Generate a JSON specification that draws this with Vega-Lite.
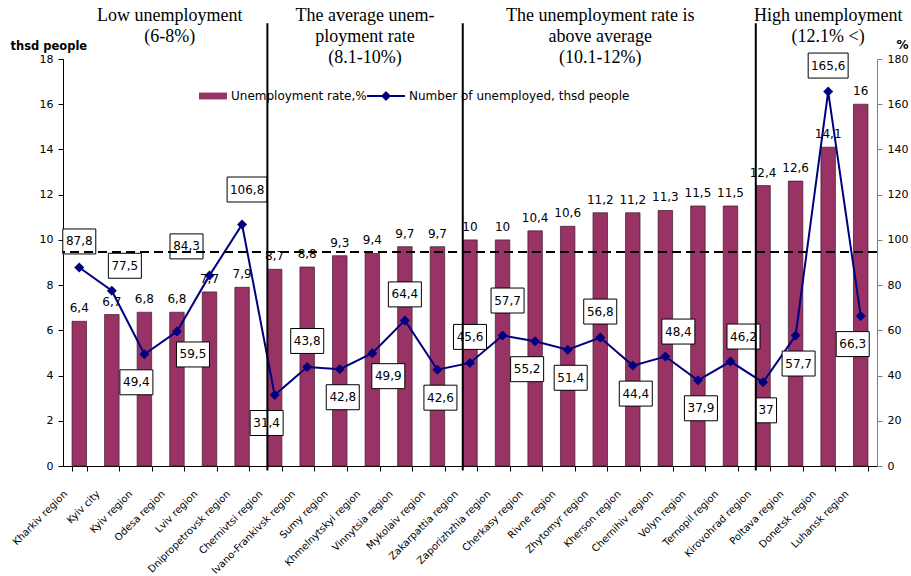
{
  "$schema": "https://vega.github.io/schema/vega-lite/v6.json",
  "width": 814,
  "height": 407,
  "autosize": {"type": "none"},
  "padding": {"left": 63, "top": 59, "right": 34, "bottom": 110},
  "background": "white",
  "config": {
    "locale": {"number": {"decimal": ",", "thousands": " ", "grouping": [3], "currency": ["", ""]}},
    "view": {"stroke": null},
    "axis": {
      "labelFont": "DejaVu Sans", "labelFontSize": 11, "labelColor": "black",
      "titleFont": "DejaVu Sans", "titleColor": "black", "grid": false,
      "domainColor": "black", "tickColor": "black"
    },
    "text": {"font": "DejaVu Sans", "fontSize": 12, "color": "black"}
  },
  "datasets": {
    "regions": [
      {"region": "Kharkiv region", "rate": 6.4, "num": 87.8},
      {"region": "Kyiv city", "rate": 6.7, "num": 77.5},
      {"region": "Kyiv region", "rate": 6.8, "num": 49.4},
      {"region": "Odesa region", "rate": 6.8, "num": 59.5},
      {"region": "Lviv region", "rate": 7.7, "num": 84.3},
      {"region": "Dnipropetrovsk region", "rate": 7.9, "num": 106.8},
      {"region": "Chernivtsi region", "rate": 8.7, "num": 31.4},
      {"region": "Ivano-Frankivsk region", "rate": 8.8, "num": 43.8},
      {"region": "Sumy region", "rate": 9.3, "num": 42.8},
      {"region": "Khmelnytskyi region", "rate": 9.4, "num": 49.9},
      {"region": "Vinnytsia region", "rate": 9.7, "num": 64.4},
      {"region": "Mykolaiv region", "rate": 9.7, "num": 42.6},
      {"region": "Zakarpattia region", "rate": 10, "num": 45.6},
      {"region": "Zaporizhzhia region", "rate": 10, "num": 57.7},
      {"region": "Cherkasy region", "rate": 10.4, "num": 55.2},
      {"region": "Rivne region", "rate": 10.6, "num": 51.4},
      {"region": "Zhytomyr region", "rate": 11.2, "num": 56.8},
      {"region": "Kherson region", "rate": 11.2, "num": 44.4},
      {"region": "Chernihiv region", "rate": 11.3, "num": 48.4},
      {"region": "Volyn region", "rate": 11.5, "num": 37.9},
      {"region": "Ternopil region", "rate": 11.5, "num": 46.2},
      {"region": "Kirovohrad region", "rate": 12.4, "num": 37},
      {"region": "Poltava region", "rate": 12.6, "num": 57.7},
      {"region": "Donetsk region", "rate": 14.1, "num": 165.6},
      {"region": "Luhansk region", "rate": 16, "num": 66.3}
    ],
    "headers": [
      {"lines": ["Low unemployment", "(6-8%)"], "region": "Odesa region"},
      {"lines": ["The average unem-", "ployment rate", "(8.1-10%)"], "region": "Khmelnytskyi region"},
      {"lines": ["The unemployment rate is", "above average", "(10.1-12%)"], "region": "Zhytomyr region"},
      {"lines": ["High unemployment", "(12.1% <)"], "region": "Donetsk region"}
    ],
    "bounds": [
      {"region": "Chernivtsi region"},
      {"region": "Zakarpattia region"},
      {"region": "Kirovohrad region"}
    ]
  },
  "data": {"name": "regions"},
  "layer": [
    {
      "layer": [
        {
          "mark": {"type": "bar", "color": "#993366", "stroke": "#3a1a2a", "strokeWidth": 0.7},
          "encoding": {
            "x": {
              "field": "region", "type": "nominal", "sort": null,
              "scale": {"paddingInner": 0.555, "paddingOuter": 0.2775},
              "axis": {
                "title": null, "labelAngle": -45, "labelAlign": "right", "labelBaseline": "middle",
                "labelFontSize": 10, "labelPadding": 21, "labelOffset": -14, "labelLimit": 200,
                "tickBand": "extent", "tickSize": 5
              }
            },
            "y": {
              "field": "rate", "type": "quantitative",
              "scale": {"domain": [0, 18], "nice": false},
              "axis": {
                "values": [0, 2, 4, 6, 8, 10, 12, 14, 16, 18],
                "title": "thsd people", "titleAngle": 0, "titleAlign": "left", "titleBaseline": "alphabetic",
                "titleX": -53, "titleY": -10, "titleFontWeight": "bold", "titleFontSize": 11.5,
                "tickSize": 5, "labelPadding": 5
              }
            }
          }
        },
        {
          "mark": {"type": "text", "baseline": "alphabetic", "dy": -9},
          "encoding": {
            "x": {"field": "region", "type": "nominal", "sort": null},
            "y": {"field": "rate", "type": "quantitative", "scale": {"domain": [0, 18], "nice": false}},
            "text": {"field": "rate", "type": "quantitative", "format": ".1~f"}
          }
        }
      ]
    },
    {
      "layer": [
        {
          "mark": {"type": "line", "color": "#000080", "strokeWidth": 2},
          "encoding": {
            "x": {"field": "region", "type": "nominal", "sort": null},
            "y": {
              "field": "num", "type": "quantitative",
              "scale": {"domain": [0, 180], "nice": false},
              "axis": {
                "orient": "right",
                "values": [0, 20, 40, 60, 80, 100, 120, 140, 160, 180],
                "title": "%", "titleAngle": 0, "titleAlign": "left", "titleBaseline": "alphabetic",
                "titleX": 19, "titleY": -11, "titleFontWeight": "bold", "titleFontSize": 12,
                "domainColor": "#808080", "tickColor": "#808080", "tickSize": 5, "labelPadding": 5
              }
            }
          }
        },
        {
          "mark": {"type": "point", "shape": "diamond", "filled": true, "color": "#000080", "size": 100, "opacity": 1},
          "encoding": {
            "x": {"field": "region", "type": "nominal", "sort": null},
            "y": {"field": "num", "type": "quantitative", "scale": {"domain": [0, 180], "nice": false}}
          }
        },
        {
          "transform": [{"filter": {"field": "region", "oneOf": ["Kharkiv region", "Ivano-Frankivsk region", "Vinnytsia region", "Zakarpattia region", "Zhytomyr region", "Donetsk region"]}}],
          "layer": [
            {
              "mark": {"type": "point", "filled": true, "fill": "white", "stroke": "black", "strokeWidth": 1, "opacity": 1, "size": 1296, "yOffset": -26},
              "encoding": {
                "x": {"field": "region", "type": "nominal", "sort": null},
                "y": {"field": "num", "type": "quantitative", "scale": {"domain": [0, 180], "nice": false}},
                "shape": {
                  "condition": [
                    {"test": "datum.num >= 100", "value": "M-1.11,-0.694H1.11V0.694H-1.11Z"},
                    {"test": "datum.num % 1 == 0", "value": "M-0.583,-0.694H0.583V0.694H-0.583Z"}
                  ],
                  "value": "M-0.917,-0.694H0.917V0.694H-0.917Z"
                }
              }
            },
            {
              "mark": {"type": "text", "baseline": "middle", "dy": -26},
              "encoding": {
                "x": {"field": "region", "type": "nominal", "sort": null},
                "y": {"field": "num", "type": "quantitative", "scale": {"domain": [0, 180], "nice": false}},
                "text": {"field": "num", "type": "quantitative", "format": ".1~f"}
              }
            }
          ]
        },
        {
          "transform": [{"filter": {"field": "region", "oneOf": ["Dnipropetrovsk region", "Zaporizhzhia region"]}}],
          "layer": [
            {
              "mark": {"type": "point", "filled": true, "fill": "white", "stroke": "black", "strokeWidth": 1, "opacity": 1, "size": 1296, "xOffset": 5, "yOffset": -35},
              "encoding": {
                "x": {"field": "region", "type": "nominal", "sort": null},
                "y": {"field": "num", "type": "quantitative", "scale": {"domain": [0, 180], "nice": false}},
                "shape": {
                  "condition": [
                    {"test": "datum.num >= 100", "value": "M-1.11,-0.694H1.11V0.694H-1.11Z"},
                    {"test": "datum.num % 1 == 0", "value": "M-0.583,-0.694H0.583V0.694H-0.583Z"}
                  ],
                  "value": "M-0.917,-0.694H0.917V0.694H-0.917Z"
                }
              }
            },
            {
              "mark": {"type": "text", "baseline": "middle", "dx": 5, "dy": -35},
              "encoding": {
                "x": {"field": "region", "type": "nominal", "sort": null},
                "y": {"field": "num", "type": "quantitative", "scale": {"domain": [0, 180], "nice": false}},
                "text": {"field": "num", "type": "quantitative", "format": ".1~f"}
              }
            }
          ]
        },
        {
          "transform": [{"filter": {"field": "region", "oneOf": ["Kyiv city", "Chernihiv region", "Ternopil region"]}}],
          "layer": [
            {
              "mark": {"type": "point", "filled": true, "fill": "white", "stroke": "black", "strokeWidth": 1, "opacity": 1, "size": 1296, "xOffset": 13, "yOffset": -25},
              "encoding": {
                "x": {"field": "region", "type": "nominal", "sort": null},
                "y": {"field": "num", "type": "quantitative", "scale": {"domain": [0, 180], "nice": false}},
                "shape": {"value": "M-0.917,-0.694H0.917V0.694H-0.917Z"}
              }
            },
            {
              "mark": {"type": "text", "baseline": "middle", "dx": 13, "dy": -25},
              "encoding": {
                "x": {"field": "region", "type": "nominal", "sort": null},
                "y": {"field": "num", "type": "quantitative", "scale": {"domain": [0, 180], "nice": false}},
                "text": {"field": "num", "type": "quantitative", "format": ".1~f"}
              }
            }
          ]
        },
        {
          "transform": [{"filter": {"field": "region", "oneOf": ["Lviv region"]}}],
          "layer": [
            {
              "mark": {"type": "point", "filled": true, "fill": "white", "stroke": "black", "strokeWidth": 1, "opacity": 1, "size": 1296, "xOffset": -23, "yOffset": -29},
              "encoding": {
                "x": {"field": "region", "type": "nominal", "sort": null},
                "y": {"field": "num", "type": "quantitative", "scale": {"domain": [0, 180], "nice": false}},
                "shape": {"value": "M-0.917,-0.694H0.917V0.694H-0.917Z"}
              }
            },
            {
              "mark": {"type": "text", "baseline": "middle", "dx": -23, "dy": -29},
              "encoding": {
                "x": {"field": "region", "type": "nominal", "sort": null},
                "y": {"field": "num", "type": "quantitative", "scale": {"domain": [0, 180], "nice": false}},
                "text": {"field": "num", "type": "quantitative", "format": ".1~f"}
              }
            }
          ]
        },
        {
          "transform": [{"filter": {"field": "region", "oneOf": ["Sumy region", "Mykolaiv region", "Rivne region", "Kherson region", "Volyn region", "Kirovohrad region", "Poltava region"]}}],
          "layer": [
            {
              "mark": {"type": "point", "filled": true, "fill": "white", "stroke": "black", "strokeWidth": 1, "opacity": 1, "size": 1296, "xOffset": 3, "yOffset": 28},
              "encoding": {
                "x": {"field": "region", "type": "nominal", "sort": null},
                "y": {"field": "num", "type": "quantitative", "scale": {"domain": [0, 180], "nice": false}},
                "shape": {
                  "condition": [
                    {"test": "datum.num >= 100", "value": "M-1.11,-0.694H1.11V0.694H-1.11Z"},
                    {"test": "datum.num % 1 == 0", "value": "M-0.583,-0.694H0.583V0.694H-0.583Z"}
                  ],
                  "value": "M-0.917,-0.694H0.917V0.694H-0.917Z"
                }
              }
            },
            {
              "mark": {"type": "text", "baseline": "middle", "dx": 3, "dy": 28},
              "encoding": {
                "x": {"field": "region", "type": "nominal", "sort": null},
                "y": {"field": "num", "type": "quantitative", "scale": {"domain": [0, 180], "nice": false}},
                "text": {"field": "num", "type": "quantitative", "format": ".1~f"}
              }
            }
          ]
        },
        {
          "transform": [{"filter": {"field": "region", "oneOf": ["Kyiv region", "Chernivtsi region", "Cherkasy region", "Luhansk region"]}}],
          "layer": [
            {
              "mark": {"type": "point", "filled": true, "fill": "white", "stroke": "black", "strokeWidth": 1, "opacity": 1, "size": 1296, "xOffset": -8, "yOffset": 28},
              "encoding": {
                "x": {"field": "region", "type": "nominal", "sort": null},
                "y": {"field": "num", "type": "quantitative", "scale": {"domain": [0, 180], "nice": false}},
                "shape": {"value": "M-0.917,-0.694H0.917V0.694H-0.917Z"}
              }
            },
            {
              "mark": {"type": "text", "baseline": "middle", "dx": -8, "dy": 28},
              "encoding": {
                "x": {"field": "region", "type": "nominal", "sort": null},
                "y": {"field": "num", "type": "quantitative", "scale": {"domain": [0, 180], "nice": false}},
                "text": {"field": "num", "type": "quantitative", "format": ".1~f"}
              }
            }
          ]
        },
        {
          "transform": [{"filter": {"field": "region", "oneOf": ["Odesa region", "Khmelnytskyi region"]}}],
          "layer": [
            {
              "mark": {"type": "point", "filled": true, "fill": "white", "stroke": "black", "strokeWidth": 1, "opacity": 1, "size": 1296, "xOffset": 16, "yOffset": 23},
              "encoding": {
                "x": {"field": "region", "type": "nominal", "sort": null},
                "y": {"field": "num", "type": "quantitative", "scale": {"domain": [0, 180], "nice": false}},
                "shape": {"value": "M-0.917,-0.694H0.917V0.694H-0.917Z"}
              }
            },
            {
              "mark": {"type": "text", "baseline": "middle", "dx": 16, "dy": 23},
              "encoding": {
                "x": {"field": "region", "type": "nominal", "sort": null},
                "y": {"field": "num", "type": "quantitative", "scale": {"domain": [0, 180], "nice": false}},
                "text": {"field": "num", "type": "quantitative", "format": ".1~f"}
              }
            }
          ]
        },
        {
          "data": {"values": [{}]},
          "mark": {"type": "rule", "color": "black", "strokeWidth": 2, "strokeDash": [9, 5]},
          "encoding": {
            "y": {"datum": 94.6, "type": "quantitative", "scale": {"domain": [0, 180], "nice": false}}
          }
        },
        {
          "data": {"name": "bounds"},
          "mark": {"type": "rule", "color": "black", "strokeWidth": 2},
          "encoding": {
            "x": {"field": "region", "type": "nominal", "sort": null, "bandPosition": 0},
            "y": {"datum": 195.8, "type": "quantitative", "scale": {"domain": [0, 180], "nice": false}},
            "y2": {"datum": -2}
          }
        },
        {
          "data": {"name": "headers"},
          "transform": [{"filter": {"field": "region", "oneOf": ["Odesa region", "Khmelnytskyi region"]}}],
          "mark": {"type": "text", "font": "Liberation Serif", "fontSize": 18, "lineHeight": 21, "baseline": "top", "align": "center"},
          "encoding": {
            "x": {"field": "region", "type": "nominal", "sort": null, "bandPosition": 0},
            "y": {"datum": 203, "type": "quantitative", "scale": {"domain": [0, 180], "nice": false}},
            "text": {"field": "lines", "type": "nominal"}
          }
        },
        {
          "data": {"name": "headers"},
          "transform": [{"filter": {"field": "region", "oneOf": ["Zhytomyr region", "Donetsk region"]}}],
          "mark": {"type": "text", "font": "Liberation Serif", "fontSize": 18, "lineHeight": 21, "baseline": "top", "align": "center"},
          "encoding": {
            "x": {"field": "region", "type": "nominal", "sort": null},
            "y": {"datum": 203, "type": "quantitative", "scale": {"domain": [0, 180], "nice": false}},
            "text": {"field": "lines", "type": "nominal"}
          }
        },
        {
          "data": {"values": []},
          "mark": {"type": "point", "filled": true, "opacity": 1, "size": 1444, "strokeWidth": 0},
          "encoding": {
            "color": {
              "field": "series", "type": "nominal",
              "scale": {"domain": ["Unemployment rate,%", "Number of unemployed, thsd people"], "range": ["#993366", "#000080"]},
              "legend": {
                "title": null, "orient": "none", "legendX": 126, "legendY": 18, "direction": "horizontal",
                "labelFont": "DejaVu Sans", "labelFontSize": 12, "labelColor": "black", "labelLimit": 300,
                "symbolSize": 1444, "symbolStrokeWidth": 0, "symbolOpacity": 1,
                "columnPadding": 0, "labelOffset": 4, "padding": 0
              }
            },
            "shape": {
              "field": "series", "type": "nominal",
              "scale": {
                "domain": ["Unemployment rate,%", "Number of unemployed, thsd people"],
                "range": ["M-0.474,-0.18H1V0.18H-0.474Z", "M-1,-0.055H1V0.055H-1ZM0,-0.26L0.26,0L0,0.26L-0.26,0Z"]
              },
              "legend": {
                "title": null, "orient": "none", "legendX": 126, "legendY": 18, "direction": "horizontal",
                "labelFont": "DejaVu Sans", "labelFontSize": 12, "labelColor": "black", "labelLimit": 300,
                "symbolSize": 1444, "symbolStrokeWidth": 0, "symbolOpacity": 1,
                "columnPadding": 0, "labelOffset": 4, "padding": 0
              }
            }
          }
        }
      ]
    }
  ],
  "resolve": {"scale": {"y": "independent"}}
}
